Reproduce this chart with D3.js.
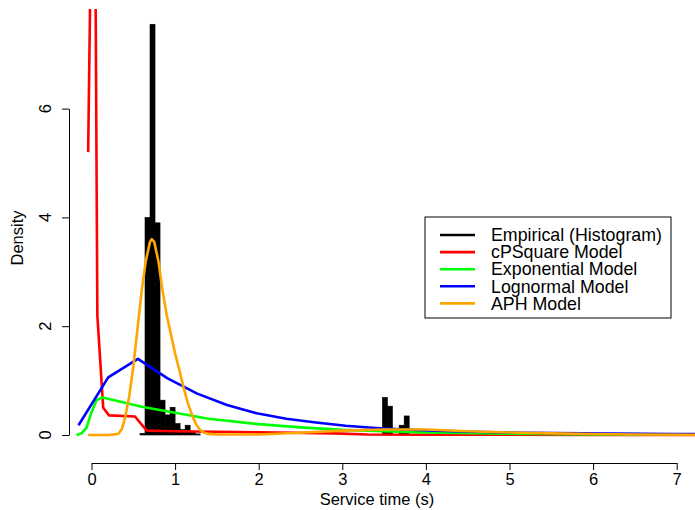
<!DOCTYPE html>
<html>
<head>
<meta charset="utf-8">
<script src="https://cdn.jsdelivr.net/npm/d3@7"></script>
<style>
  body { margin: 0; background: #fff; }
  text { font-family: "Liberation Sans", Arial, Helvetica, sans-serif; fill: #000; }
</style>
</head>
<body>
<div id="chart"></div>
<script>
//histogram bins (left edge, density), fixed bin width
var binWidth = 0.06
var histLeft    = [0.58, 0.64, 0.70, 0.76, 0.82, 0.88, 0.94, 1.00, 1.06, 1.12, 1.18, 1.24, 3.48, 3.54, 3.68, 3.74]
var histDensity = [0.03, 4.00, 7.55, 3.90, 0.64, 0.37, 0.51, 0.21, 0.10, 0.18, 0.05, 0.02, 0.69, 0.53, 0.18, 0.35]

//model curves
var cpsX = [-0.04, 0.03, 0.07, 0.14, 0.21, 0.52, 0.66, 1.0, 2.0, 2.9, 3.3, 4.0, 5.0, 6.0, 7.3]
var cpsY = [5.2, 13.5, 2.2, 0.5, 0.36, 0.34, 0.08, 0.07, 0.05, 0.03, 0.01, 0.005, 0.004, 0.003, 0.002]

var expX = [-0.18, -0.12, -0.06, 0.0, 0.06, 0.13, 0.3, 0.6, 1.0, 1.4, 2.0, 2.5, 3.0, 3.5, 4.0, 5.0, 6.0, 7.3]
var expY = [0.0, 0.03, 0.13, 0.42, 0.64, 0.69, 0.63, 0.52, 0.41, 0.3, 0.2, 0.14, 0.095, 0.068, 0.047, 0.023, 0.011, 0.004]

var lnX = [-0.155, 0.2, 0.555, 0.91, 1.265, 1.62, 1.975, 2.33, 2.685, 3.04, 3.395, 3.75, 4.105, 4.46, 4.815, 5.17, 5.525, 5.88, 6.235, 6.59, 6.945, 7.3]
var lnY = [0.18, 1.06, 1.40, 1.04, 0.76, 0.55, 0.40, 0.30, 0.23, 0.17, 0.13, 0.10, 0.08, 0.065, 0.05, 0.04, 0.035, 0.03, 0.025, 0.02, 0.018, 0.015]

var aphX = [-0.04, 0.2, 0.32, 0.36, 0.4, 0.45, 0.5, 0.55, 0.6, 0.65, 0.7, 0.72, 0.75, 0.8, 0.85, 0.9, 0.95, 1.0, 1.05, 1.1, 1.15, 1.2, 1.25, 1.3, 1.35, 1.4, 1.5, 2.0, 2.5, 3.0, 3.5, 4.0, 4.5, 5.0, 5.5, 6.0, 6.5, 7.3]
var aphY = [0.0, 0.0, 0.02, 0.1, 0.3, 0.7, 1.25, 1.95, 2.65, 3.2, 3.55, 3.6, 3.55, 3.2, 2.65, 2.2, 1.85, 1.5, 1.2, 0.88, 0.6, 0.38, 0.2, 0.09, 0.04, 0.02, 0.01, 0.01, 0.04, 0.08, 0.1, 0.1, 0.07, 0.045, 0.03, 0.018, 0.01, 0.005]

//axis ticks
var xTicks = [0, 1, 2, 3, 4, 5, 6, 7]
var yTicks = [0, 2, 4, 6]

//legend
var legendLabels = ['Empirical (Histogram)', 'cPSquare Model', 'Exponential Model', 'Lognormal Model', 'APH Model']
var legendColors = ['black', 'red', '#00ff00', 'blue', 'orange']

var width = 695, height = 510
var fontSize = 16.5

var svg = d3.select('#chart')
			.append('svg')
			.attr('width', width)
			.attr('height', height)

var x = d3.scaleLinear().domain([0, 7]).range([91.5, 676.7])
var y = d3.scaleLinear().domain([0, 6]).range([435, 108.6])

//plot region clip
svg.append('clipPath')
   .attr('id', 'plotclip')
   .append('rect')
   .attr('x', 69).attr('y', 9)
   .attr('width', width - 69).attr('height', 454)

var plot = svg.append('g').attr('clip-path', 'url(#plotclip)')

//histogram bars
plot.selectAll('.bar')
	.data(histLeft.map(function(d, i){ return [d, histDensity[i]] }))
	.enter().append('rect')
	.attr('class', 'bar')
	.attr('x', function(d){ return x(d[0]) })
	.attr('y', function(d){ return y(d[1]) })
	.attr('width', function(d){ return x(d[0] + binWidth) - x(d[0]) })
	.attr('height', function(d){ return y(0) - y(d[1]) })
	.style('fill', 'black')
	.style('stroke', 'black')
	.style('stroke-width', 0.6)

var line = d3.line()
			 .x(function(d){ return x(d[0]) })
			 .y(function(d){ return y(d[1]) })

var curves = [[cpsX, cpsY, 'red'], [expX, expY, '#00ff00'], [lnX, lnY, 'blue'], [aphX, aphY, 'orange']]
curves.forEach(function(c){
	var pts = c[0].map(function(v, i){ return [v, c[1][i]] })
	plot.append('path')
		.datum(pts)
		.attr('d', line)
		.style('fill', 'none')
		.style('stroke', c[2])
		.style('stroke-width', 2.6)
		.style('stroke-linejoin', 'round')
})

//x axis
var xAxis = svg.append('g')
			   .attr('transform', 'translate(0,463)')
			   .call(d3.axisBottom(x).tickValues(xTicks).tickFormat(d3.format('d')).tickSize(7).tickSizeOuter(0).tickPadding(3))
xAxis.selectAll('text').style('font-size', fontSize + 'px').attr('font-family', null)
xAxis.selectAll('line, path').style('stroke', 'black').style('stroke-width', 1)

svg.append('text')
   .attr('x', 377)
   .attr('y', 499)
   .attr('dy', '0.35em')
   .attr('text-anchor', 'middle')
   .style('font-size', fontSize + 'px')
   .text('Service time (s)')

//y axis
var yAxis = svg.append('g')
			   .attr('transform', 'translate(69,0)')
			   .call(d3.axisLeft(y).tickValues(yTicks).tickSize(7).tickSizeOuter(0).tickFormat(''))
yAxis.selectAll('line, path').style('stroke', 'black').style('stroke-width', 1)

svg.selectAll('.ylab')
   .data(yTicks).enter()
   .append('text')
   .attr('class', 'ylab')
   .attr('transform', function(d){ return 'translate(45,' + y(d) + ') rotate(-90)' })
   .attr('dy', '0.35em')
   .attr('text-anchor', 'middle')
   .style('font-size', fontSize + 'px')
   .text(String)

svg.append('text')
   .attr('transform', 'translate(17,238) rotate(-90)')
   .attr('dy', '0.35em')
   .attr('text-anchor', 'middle')
   .style('font-size', fontSize + 'px')
   .text('Density')

//legend
var legend = svg.append('g').attr('transform', 'translate(425,217)')
legend.append('rect')
	  .attr('width', 246)
	  .attr('height', 101)
	  .style('fill', 'white')
	  .style('stroke', 'black')
	  .style('stroke-width', 1)

var rows = legend.selectAll('.row')
				 .data(legendLabels).enter()
				 .append('g')
				 .attr('class', 'row')
				 .attr('transform', function(d, i){ return 'translate(0,' + (18 + i * 17.1) + ')' })
rows.append('line')
	.attr('x1', 15).attr('x2', 50)
	.style('stroke', function(d, i){ return legendColors[i] })
	.style('stroke-width', 2.6)
rows.append('text')
	.attr('x', 66)
	.attr('dy', '0.35em')
	.style('font-size', '17.8px')
	.text(String)
</script>
</body>
</html>
